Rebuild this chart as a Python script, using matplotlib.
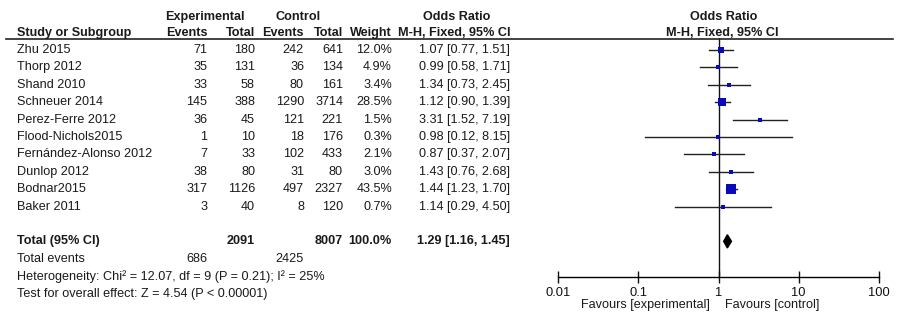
import numpy as np
import matplotlib
matplotlib.use("Agg")
import matplotlib.pyplot as plt
from matplotlib.transforms import blended_transform_factory
from matplotlib.lines import Line2D

plt.rcParams['font.family'] = ['Liberation Sans', 'DejaVu Sans']

studies = ["Zhu 2015", "Thorp 2012", "Shand 2010", "Schneuer 2014", "Perez-Ferre 2012",
           "Flood-Nichols2015", "Fernández-Alonso 2012", "Dunlop 2012", "Bodnar2015", "Baker 2011"]
exp_events = [71, 35, 33, 145, 36, 1, 7, 38, 317, 3]
exp_total = [180, 131, 58, 388, 45, 10, 33, 80, 1126, 40]
ctrl_events = [242, 36, 80, 1290, 121, 18, 102, 31, 497, 8]
ctrl_total = [641, 134, 161, 3714, 221, 176, 433, 80, 2327, 120]
weights = [12.0, 4.9, 3.4, 28.5, 1.5, 0.3, 2.1, 3.0, 43.5, 0.7]
odds = [1.07, 0.99, 1.34, 1.12, 3.31, 0.98, 0.87, 1.43, 1.44, 1.14]
ci_low = [0.77, 0.58, 0.73, 0.90, 1.52, 0.12, 0.37, 0.76, 1.23, 0.29]
ci_high = [1.51, 1.71, 2.45, 1.39, 7.19, 8.15, 2.07, 2.68, 1.70, 4.50]

total_exp, total_ctrl = 2091, 8007
total_ev_exp, total_ev_ctrl = 686, 2425
total_or, total_low, total_high = 1.29, 1.16, 1.45

W, H = 904, 324
fig = plt.figure(figsize=(W / 100, H / 100), dpi=100)

def fx(px):
    return px / W

def fy(py):
    return 1 - py / H

# forest axes: rows are data units on y
ax = fig.add_axes([fx(558), fy(277), fx(879) - fx(558), fy(38) - fy(277)])
ax.set_xscale('log')
ax.set_xlim(0.01, 100)
ax.set_ylim(13.05, -0.69)
for s in ['top', 'left', 'right']:
    ax.spines[s].set_visible(False)
ax.spines['bottom'].set_linewidth(1.0)
ax.set_yticks([])
ax.set_xticks([0.01, 0.1, 1, 10, 100])
ax.set_xticklabels(["0.01", "0.1", "1", "10", "100"])
ax.minorticks_off()
ax.tick_params(axis='x', direction='inout', length=8, width=1, labelsize=9.3, pad=3, colors='#111111')
ax.axvline(1, color='#111111', lw=1)
ax.patch.set_alpha(0)

blue = '#0a0ab8'
rows = np.arange(len(studies))
for i in rows:
    ax.plot([ci_low[i], ci_high[i]], [i, i], color='#222222', lw=1, clip_on=False)
    size = max(3.0, 10.5 * np.sqrt(weights[i] / 43.5))
    ax.plot(odds[i], i, marker='s', color=blue, markersize=size * 0.74, mew=0, clip_on=False)

ty = 11
ax.fill([total_low, total_or, total_high, total_or], [ty, ty - 0.38, ty, ty + 0.38],
        color='black', clip_on=False)

tr = blended_transform_factory(fig.transFigure, ax.transData)
fs = 9.1
col = '#1a1a1a'

def put(px, row, s, ha='left', bold=False):
    fig.text(fx(px), row, s, transform=tr, ha=ha, va='center', fontsize=fs,
             color=col, fontweight='bold' if bold else 'normal')

# headers
put(205, -1.92, "Experimental", ha='center', bold=True)
put(298, -1.92, "Control", ha='center', bold=True)
put(457, -1.92, "Odds Ratio", ha='center', bold=True)
put(724, -1.92, "Odds Ratio", ha='center', bold=True)
put(17, -0.98, "Study or Subgroup", bold=True)
put(208, -0.98, "Events", ha='right', bold=True)
put(255, -0.98, "Total", ha='right', bold=True)
put(304, -0.98, "Events", ha='right', bold=True)
put(343, -0.98, "Total", ha='right', bold=True)
put(392, -0.98, "Weight", ha='right', bold=True)
put(510, -0.98, "M-H, Fixed, 95% CI", ha='right', bold=True)
put(722, -0.98, "M-H, Fixed, 95% CI", ha='center', bold=True)

fig.add_artist(Line2D([fx(6), fx(893)], [fy(38.5), fy(38.5)], color='#222222', lw=1.2))

for i in rows:
    put(17, i, studies[i])
    put(207, i, str(exp_events[i]), ha='right')
    put(255, i, str(exp_total[i]), ha='right')
    put(304, i, str(ctrl_events[i]), ha='right')
    put(343, i, str(ctrl_total[i]), ha='right')
    put(392, i, f"{weights[i]:.1f}%", ha='right')
    put(510, i, f"{odds[i]:.2f} [{ci_low[i]:.2f}, {ci_high[i]:.2f}]", ha='right')

put(17, 11, "Total (95% CI)", bold=True)
put(255, 11, str(total_exp), ha='right', bold=True)
put(343, 11, str(total_ctrl), ha='right', bold=True)
put(392, 11, "100.0%", ha='right', bold=True)
put(510, 11, f"{total_or:.2f} [{total_low:.2f}, {total_high:.2f}]", ha='right', bold=True)
put(17, 12, "Total events")
put(207, 12, str(total_ev_exp), ha='right')
put(304, 12, str(total_ev_ctrl), ha='right')
put(17, 13, "Heterogeneity: Chi² = 12.07, df = 9 (P = 0.21); I² = 25%")
put(17, 14, "Test for overall effect: Z = 4.54 (P < 0.00001)")

fig.text(fx(710), fy(305), "Favours [experimental]", ha='right', va='center', fontsize=fs, color=col)
fig.text(fx(725), fy(305), "Favours [control]", ha='left', va='center', fontsize=fs, color=col)

fig.savefig("out.png", dpi=100)
